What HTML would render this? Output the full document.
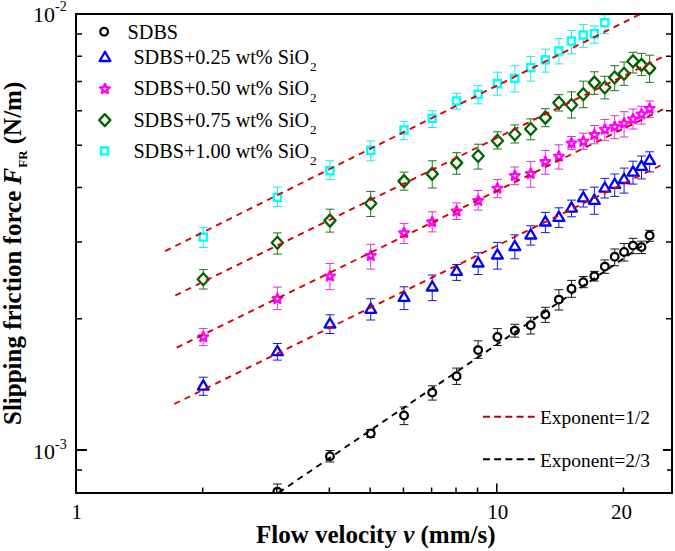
<!DOCTYPE html>
<html><head><meta charset="utf-8"><style>
html,body{margin:0;padding:0;background:#fff;overflow:hidden;}
svg{display:block;font-family:"Liberation Serif",serif;}
</style></head><body>
<svg width="675" height="551" viewBox="0 0 675 551">
<rect width="675" height="551" fill="#fff"/>
<defs><clipPath id="pc"><rect x="76" y="14" width="596" height="478"/></clipPath></defs>
<g clip-path="url(#pc)"><path d="M277.37 484.00V493.00M272.97 484.00H281.77" stroke="#1a1a1a" stroke-width="1.0" fill="none"/><path d="M329.95 450.50V462.00M325.55 450.50H334.35M325.55 462.00H334.35" stroke="#1a1a1a" stroke-width="1.0" fill="none"/><path d="M370.73 429.50V437.50M366.33 429.50H375.13M366.33 437.50H375.13" stroke="#1a1a1a" stroke-width="1.0" fill="none"/><path d="M404.05 407.00V424.60M399.65 407.00H408.45M399.65 424.60H408.45" stroke="#1a1a1a" stroke-width="1.0" fill="none"/><path d="M432.22 385.80V400.10M427.82 385.80H436.62M427.82 400.10H436.62" stroke="#1a1a1a" stroke-width="1.0" fill="none"/><path d="M456.62 368.10V384.40M452.22 368.10H461.02M452.22 384.40H461.02" stroke="#1a1a1a" stroke-width="1.0" fill="none"/><path d="M478.15 340.80V358.30M473.75 340.80H482.55M473.75 358.30H482.55" stroke="#1a1a1a" stroke-width="1.0" fill="none"/><path d="M497.40 328.60V345.50M493.00 328.60H501.80M493.00 345.50H501.80" stroke="#1a1a1a" stroke-width="1.0" fill="none"/><path d="M514.82 324.30V337.10M510.42 324.30H519.22M510.42 337.10H519.22" stroke="#1a1a1a" stroke-width="1.0" fill="none"/><path d="M530.72 317.30V334.00M526.32 317.30H535.12M526.32 334.00H535.12" stroke="#1a1a1a" stroke-width="1.0" fill="none"/><path d="M545.35 307.30V322.40M540.95 307.30H549.75M540.95 322.40H549.75" stroke="#1a1a1a" stroke-width="1.0" fill="none"/><path d="M558.89 289.70V310.00M554.49 289.70H563.29M554.49 310.00H563.29" stroke="#1a1a1a" stroke-width="1.0" fill="none"/><path d="M571.50 280.40V297.30M567.10 280.40H575.90M567.10 297.30H575.90" stroke="#1a1a1a" stroke-width="1.0" fill="none"/><path d="M583.29 276.50V287.70M578.89 276.50H587.69M578.89 287.70H587.69" stroke="#1a1a1a" stroke-width="1.0" fill="none"/><path d="M594.37 271.40V281.00M589.97 271.40H598.77M589.97 281.00H598.77" stroke="#1a1a1a" stroke-width="1.0" fill="none"/><path d="M604.82 259.90V273.30M600.42 259.90H609.22M600.42 273.30H609.22" stroke="#1a1a1a" stroke-width="1.0" fill="none"/><path d="M614.70 249.00V265.70M610.30 249.00H619.10M610.30 265.70H619.10" stroke="#1a1a1a" stroke-width="1.0" fill="none"/><path d="M624.07 243.50V261.00M619.67 243.50H628.47M619.67 261.00H628.47" stroke="#1a1a1a" stroke-width="1.0" fill="none"/><path d="M632.99 238.30V253.70M628.59 238.30H637.39M628.59 253.70H637.39" stroke="#1a1a1a" stroke-width="1.0" fill="none"/><path d="M641.49 241.20V253.50M637.09 241.20H645.89M637.09 253.50H645.89" stroke="#1a1a1a" stroke-width="1.0" fill="none"/><path d="M649.62 230.40V241.30M645.22 230.40H654.02M645.22 241.30H654.02" stroke="#1a1a1a" stroke-width="1.0" fill="none"/><circle cx="277.37" cy="491.60" r="3.85" fill="#fff" stroke="#000" stroke-width="2.25"/><circle cx="329.95" cy="456.20" r="3.85" fill="#fff" stroke="#000" stroke-width="2.25"/><circle cx="370.73" cy="433.50" r="3.85" fill="#fff" stroke="#000" stroke-width="2.25"/><circle cx="404.05" cy="415.50" r="3.85" fill="#fff" stroke="#000" stroke-width="2.25"/><circle cx="432.22" cy="392.60" r="3.85" fill="#fff" stroke="#000" stroke-width="2.25"/><circle cx="456.62" cy="376.30" r="3.85" fill="#fff" stroke="#000" stroke-width="2.25"/><circle cx="478.15" cy="350.10" r="3.85" fill="#fff" stroke="#000" stroke-width="2.25"/><circle cx="497.40" cy="336.90" r="3.85" fill="#fff" stroke="#000" stroke-width="2.25"/><circle cx="514.82" cy="330.60" r="3.85" fill="#fff" stroke="#000" stroke-width="2.25"/><circle cx="530.72" cy="325.30" r="3.85" fill="#fff" stroke="#000" stroke-width="2.25"/><circle cx="545.35" cy="314.40" r="3.85" fill="#fff" stroke="#000" stroke-width="2.25"/><circle cx="558.89" cy="299.60" r="3.85" fill="#fff" stroke="#000" stroke-width="2.25"/><circle cx="571.50" cy="288.70" r="3.85" fill="#fff" stroke="#000" stroke-width="2.25"/><circle cx="583.29" cy="282.20" r="3.85" fill="#fff" stroke="#000" stroke-width="2.25"/><circle cx="594.37" cy="276.10" r="3.85" fill="#fff" stroke="#000" stroke-width="2.25"/><circle cx="604.82" cy="266.60" r="3.85" fill="#fff" stroke="#000" stroke-width="2.25"/><circle cx="614.70" cy="256.70" r="3.85" fill="#fff" stroke="#000" stroke-width="2.25"/><circle cx="624.07" cy="251.90" r="3.85" fill="#fff" stroke="#000" stroke-width="2.25"/><circle cx="632.99" cy="245.60" r="3.85" fill="#fff" stroke="#000" stroke-width="2.25"/><circle cx="641.49" cy="247.10" r="3.85" fill="#fff" stroke="#000" stroke-width="2.25"/><circle cx="649.62" cy="235.50" r="3.85" fill="#fff" stroke="#000" stroke-width="2.25"/><path d="M203.27 377.20V395.30M198.87 377.20H207.67M198.87 395.30H207.67" stroke="#1818d8" stroke-width="1.0" fill="none"/><path d="M277.37 343.50V360.10M272.97 343.50H281.77M272.97 360.10H281.77" stroke="#1818d8" stroke-width="1.0" fill="none"/><path d="M329.95 314.80V333.50M325.55 314.80H334.35M325.55 333.50H334.35" stroke="#1818d8" stroke-width="1.0" fill="none"/><path d="M370.73 298.70V320.00M366.33 298.70H375.13M366.33 320.00H375.13" stroke="#1818d8" stroke-width="1.0" fill="none"/><path d="M404.05 286.80V309.60M399.65 286.80H408.45M399.65 309.60H408.45" stroke="#1818d8" stroke-width="1.0" fill="none"/><path d="M432.22 275.00V300.60M427.82 275.00H436.62M427.82 300.60H436.62" stroke="#1818d8" stroke-width="1.0" fill="none"/><path d="M456.62 264.50V280.40M452.22 264.50H461.02M452.22 280.40H461.02" stroke="#1818d8" stroke-width="1.0" fill="none"/><path d="M478.15 252.70V274.50M473.75 252.70H482.55M473.75 274.50H482.55" stroke="#1818d8" stroke-width="1.0" fill="none"/><path d="M497.40 242.40V269.10M493.00 242.40H501.80M493.00 269.10H501.80" stroke="#1818d8" stroke-width="1.0" fill="none"/><path d="M514.82 234.80V258.80M510.42 234.80H519.22M510.42 258.80H519.22" stroke="#1818d8" stroke-width="1.0" fill="none"/><path d="M530.72 225.80V245.10M526.32 225.80H535.12M526.32 245.10H535.12" stroke="#1818d8" stroke-width="1.0" fill="none"/><path d="M545.35 212.40V232.60M540.95 212.40H549.75M540.95 232.60H549.75" stroke="#1818d8" stroke-width="1.0" fill="none"/><path d="M558.89 207.80V227.40M554.49 207.80H563.29M554.49 227.40H563.29" stroke="#1818d8" stroke-width="1.0" fill="none"/><path d="M571.50 200.10V216.80M567.10 200.10H575.90M567.10 216.80H575.90" stroke="#1818d8" stroke-width="1.0" fill="none"/><path d="M583.29 189.80V207.00M578.89 189.80H587.69M578.89 207.00H587.69" stroke="#1818d8" stroke-width="1.0" fill="none"/><path d="M594.37 187.10V214.30M589.97 187.10H598.77M589.97 214.30H598.77" stroke="#1818d8" stroke-width="1.0" fill="none"/><path d="M604.82 178.40V198.00M600.42 178.40H609.22M600.42 198.00H609.22" stroke="#1818d8" stroke-width="1.0" fill="none"/><path d="M614.70 174.00V196.40M610.30 174.00H619.10M610.30 196.40H619.10" stroke="#1818d8" stroke-width="1.0" fill="none"/><path d="M624.07 168.10V193.10M619.67 168.10H628.47M619.67 193.10H628.47" stroke="#1818d8" stroke-width="1.0" fill="none"/><path d="M632.99 161.20V184.10M628.59 161.20H637.39M628.59 184.10H637.39" stroke="#1818d8" stroke-width="1.0" fill="none"/><path d="M641.49 156.00V178.90M637.09 156.00H645.89M637.09 178.90H645.89" stroke="#1818d8" stroke-width="1.0" fill="none"/><path d="M649.62 151.80V171.90M645.22 151.80H654.02M645.22 171.90H654.02" stroke="#1818d8" stroke-width="1.0" fill="none"/><path d="M203.27 380.40L208.67 389.60L197.87 389.60Z" fill="#fff" stroke="#0000ff" stroke-width="2.3" stroke-linejoin="round"/><path d="M277.37 346.00L282.77 355.20L271.97 355.20Z" fill="#fff" stroke="#0000ff" stroke-width="2.3" stroke-linejoin="round"/><path d="M329.95 318.30L335.35 327.50L324.55 327.50Z" fill="#fff" stroke="#0000ff" stroke-width="2.3" stroke-linejoin="round"/><path d="M370.73 303.60L376.13 312.80L365.33 312.80Z" fill="#fff" stroke="#0000ff" stroke-width="2.3" stroke-linejoin="round"/><path d="M404.05 291.70L409.45 300.90L398.65 300.90Z" fill="#fff" stroke="#0000ff" stroke-width="2.3" stroke-linejoin="round"/><path d="M432.22 281.30L437.62 290.50L426.82 290.50Z" fill="#fff" stroke="#0000ff" stroke-width="2.3" stroke-linejoin="round"/><path d="M456.62 265.60L462.02 274.80L451.22 274.80Z" fill="#fff" stroke="#0000ff" stroke-width="2.3" stroke-linejoin="round"/><path d="M478.15 257.30L483.55 266.50L472.75 266.50Z" fill="#fff" stroke="#0000ff" stroke-width="2.3" stroke-linejoin="round"/><path d="M497.40 249.30L502.80 258.50L492.00 258.50Z" fill="#fff" stroke="#0000ff" stroke-width="2.3" stroke-linejoin="round"/><path d="M514.82 240.80L520.22 250.00L509.42 250.00Z" fill="#fff" stroke="#0000ff" stroke-width="2.3" stroke-linejoin="round"/><path d="M530.72 229.30L536.12 238.50L525.32 238.50Z" fill="#fff" stroke="#0000ff" stroke-width="2.3" stroke-linejoin="round"/><path d="M545.35 216.30L550.75 225.50L539.95 225.50Z" fill="#fff" stroke="#0000ff" stroke-width="2.3" stroke-linejoin="round"/><path d="M558.89 211.70L564.29 220.90L553.49 220.90Z" fill="#fff" stroke="#0000ff" stroke-width="2.3" stroke-linejoin="round"/><path d="M571.50 202.40L576.90 211.60L566.10 211.60Z" fill="#fff" stroke="#0000ff" stroke-width="2.3" stroke-linejoin="round"/><path d="M583.29 192.10L588.69 201.30L577.89 201.30Z" fill="#fff" stroke="#0000ff" stroke-width="2.3" stroke-linejoin="round"/><path d="M594.37 194.60L599.77 203.80L588.97 203.80Z" fill="#fff" stroke="#0000ff" stroke-width="2.3" stroke-linejoin="round"/><path d="M604.82 182.50L610.22 191.70L599.42 191.70Z" fill="#fff" stroke="#0000ff" stroke-width="2.3" stroke-linejoin="round"/><path d="M614.70 178.70L620.10 187.90L609.30 187.90Z" fill="#fff" stroke="#0000ff" stroke-width="2.3" stroke-linejoin="round"/><path d="M624.07 173.80L629.47 183.00L618.67 183.00Z" fill="#fff" stroke="#0000ff" stroke-width="2.3" stroke-linejoin="round"/><path d="M632.99 166.40L638.39 175.60L627.59 175.60Z" fill="#fff" stroke="#0000ff" stroke-width="2.3" stroke-linejoin="round"/><path d="M641.49 160.70L646.89 169.90L636.09 169.90Z" fill="#fff" stroke="#0000ff" stroke-width="2.3" stroke-linejoin="round"/><path d="M649.62 154.70L655.02 163.90L644.22 163.90Z" fill="#fff" stroke="#0000ff" stroke-width="2.3" stroke-linejoin="round"/><path d="M203.27 328.60V345.60M198.87 328.60H207.67M198.87 345.60H207.67" stroke="#e030e0" stroke-width="1.0" fill="none"/><path d="M277.37 287.10V309.60M272.97 287.10H281.77M272.97 309.60H281.77" stroke="#e030e0" stroke-width="1.0" fill="none"/><path d="M329.95 263.40V289.70M325.55 263.40H334.35M325.55 289.70H334.35" stroke="#e030e0" stroke-width="1.0" fill="none"/><path d="M370.73 244.30V269.10M366.33 244.30H375.13M366.33 269.10H375.13" stroke="#e030e0" stroke-width="1.0" fill="none"/><path d="M404.05 223.60V243.50M399.65 223.60H408.45M399.65 243.50H408.45" stroke="#e030e0" stroke-width="1.0" fill="none"/><path d="M432.22 211.80V231.90M427.82 211.80H436.62M427.82 231.90H436.62" stroke="#e030e0" stroke-width="1.0" fill="none"/><path d="M456.62 202.90V219.50M452.22 202.90H461.02M452.22 219.50H461.02" stroke="#e030e0" stroke-width="1.0" fill="none"/><path d="M478.15 190.50V210.10M473.75 190.50H482.55M473.75 210.10H482.55" stroke="#e030e0" stroke-width="1.0" fill="none"/><path d="M497.40 179.50V197.70M493.00 179.50H501.80M493.00 197.70H501.80" stroke="#e030e0" stroke-width="1.0" fill="none"/><path d="M514.82 167.00V184.70M510.42 167.00H519.22M510.42 184.70H519.22" stroke="#e030e0" stroke-width="1.0" fill="none"/><path d="M530.72 161.40V187.20M526.32 161.40H535.12M526.32 187.20H535.12" stroke="#e030e0" stroke-width="1.0" fill="none"/><path d="M545.35 150.40V174.30M540.95 150.40H549.75M540.95 174.30H549.75" stroke="#e030e0" stroke-width="1.0" fill="none"/><path d="M558.89 144.80V169.10M554.49 144.80H563.29M554.49 169.10H563.29" stroke="#e030e0" stroke-width="1.0" fill="none"/><path d="M571.50 136.50V149.40M567.10 136.50H575.90M567.10 149.40H575.90" stroke="#e030e0" stroke-width="1.0" fill="none"/><path d="M583.29 133.20V149.40M578.89 133.20H587.69M578.89 149.40H587.69" stroke="#e030e0" stroke-width="1.0" fill="none"/><path d="M594.37 125.50V143.80M589.97 125.50H598.77M589.97 143.80H598.77" stroke="#e030e0" stroke-width="1.0" fill="none"/><path d="M604.82 119.40V140.70M600.42 119.40H609.22M600.42 140.70H609.22" stroke="#e030e0" stroke-width="1.0" fill="none"/><path d="M614.70 115.70V138.70M610.30 115.70H619.10M610.30 138.70H619.10" stroke="#e030e0" stroke-width="1.0" fill="none"/><path d="M624.07 111.70V137.00M619.67 111.70H628.47M619.67 137.00H628.47" stroke="#e030e0" stroke-width="1.0" fill="none"/><path d="M632.99 109.00V129.00M628.59 109.00H637.39M628.59 129.00H637.39" stroke="#e030e0" stroke-width="1.0" fill="none"/><path d="M641.49 106.30V124.10M637.09 106.30H645.89M637.09 124.10H645.89" stroke="#e030e0" stroke-width="1.0" fill="none"/><path d="M649.62 101.00V117.70M645.22 101.00H654.02M645.22 117.70H654.02" stroke="#e030e0" stroke-width="1.0" fill="none"/><path d="M203.27 332.05L204.60 335.23L208.03 335.50L205.41 337.75L206.21 341.10L203.27 339.30L200.33 341.10L201.13 337.75L198.52 335.50L201.95 335.23Z" fill="#fff" stroke="#ff00ff" stroke-width="2.4" stroke-linejoin="round"/><path d="M277.37 293.85L278.70 297.03L282.13 297.30L279.51 299.55L280.31 302.90L277.37 301.10L274.43 302.90L275.23 299.55L272.62 297.30L276.05 297.03Z" fill="#fff" stroke="#ff00ff" stroke-width="2.4" stroke-linejoin="round"/><path d="M329.95 271.25L331.27 274.43L334.70 274.70L332.09 276.95L332.89 280.30L329.95 278.50L327.01 280.30L327.81 276.95L325.19 274.70L328.62 274.43Z" fill="#fff" stroke="#ff00ff" stroke-width="2.4" stroke-linejoin="round"/><path d="M370.73 250.75L372.05 253.93L375.48 254.20L372.87 256.45L373.67 259.80L370.73 258.00L367.79 259.80L368.59 256.45L365.97 254.20L369.40 253.93Z" fill="#fff" stroke="#ff00ff" stroke-width="2.4" stroke-linejoin="round"/><path d="M404.05 228.05L405.37 231.23L408.80 231.50L406.19 233.75L406.98 237.10L404.05 235.30L401.11 237.10L401.91 233.75L399.29 231.50L402.72 231.23Z" fill="#fff" stroke="#ff00ff" stroke-width="2.4" stroke-linejoin="round"/><path d="M432.22 217.05L433.54 220.23L436.97 220.50L434.36 222.75L435.16 226.10L432.22 224.30L429.28 226.10L430.08 222.75L427.46 220.50L430.89 220.23Z" fill="#fff" stroke="#ff00ff" stroke-width="2.4" stroke-linejoin="round"/><path d="M456.62 206.25L457.94 209.43L461.38 209.70L458.76 211.95L459.56 215.30L456.62 213.50L453.68 215.30L454.48 211.95L451.86 209.70L455.30 209.43Z" fill="#fff" stroke="#ff00ff" stroke-width="2.4" stroke-linejoin="round"/><path d="M478.15 195.75L479.47 198.93L482.90 199.20L480.29 201.45L481.08 204.80L478.15 203.00L475.21 204.80L476.01 201.45L473.39 199.20L476.82 198.93Z" fill="#fff" stroke="#ff00ff" stroke-width="2.4" stroke-linejoin="round"/><path d="M497.40 183.45L498.72 186.63L502.16 186.90L499.54 189.15L500.34 192.50L497.40 190.70L494.46 192.50L495.26 189.15L492.64 186.90L496.08 186.63Z" fill="#fff" stroke="#ff00ff" stroke-width="2.4" stroke-linejoin="round"/><path d="M514.82 170.75L516.14 173.93L519.57 174.20L516.96 176.45L517.76 179.80L514.82 178.00L511.88 179.80L512.68 176.45L510.06 174.20L513.50 173.93Z" fill="#fff" stroke="#ff00ff" stroke-width="2.4" stroke-linejoin="round"/><path d="M530.72 168.75L532.04 171.93L535.47 172.20L532.86 174.45L533.66 177.80L530.72 176.00L527.78 177.80L528.58 174.45L525.96 172.20L529.40 171.93Z" fill="#fff" stroke="#ff00ff" stroke-width="2.4" stroke-linejoin="round"/><path d="M545.35 156.85L546.67 160.03L550.10 160.30L547.49 162.55L548.29 165.90L545.35 164.10L542.41 165.90L543.21 162.55L540.59 160.30L544.02 160.03Z" fill="#fff" stroke="#ff00ff" stroke-width="2.4" stroke-linejoin="round"/><path d="M558.89 151.45L560.21 154.63L563.65 154.90L561.03 157.15L561.83 160.50L558.89 158.70L555.95 160.50L556.75 157.15L554.14 154.90L557.57 154.63Z" fill="#fff" stroke="#ff00ff" stroke-width="2.4" stroke-linejoin="round"/><path d="M571.50 138.25L572.82 141.43L576.25 141.70L573.64 143.95L574.44 147.30L571.50 145.50L568.56 147.30L569.36 143.95L566.74 141.70L570.18 141.43Z" fill="#fff" stroke="#ff00ff" stroke-width="2.4" stroke-linejoin="round"/><path d="M583.29 136.45L584.62 139.63L588.05 139.90L585.43 142.15L586.23 145.50L583.29 143.70L580.35 145.50L581.15 142.15L578.54 139.90L581.97 139.63Z" fill="#fff" stroke="#ff00ff" stroke-width="2.4" stroke-linejoin="round"/><path d="M594.37 129.85L595.70 133.03L599.13 133.30L596.51 135.55L597.31 138.90L594.37 137.10L591.43 138.90L592.23 135.55L589.62 133.30L593.05 133.03Z" fill="#fff" stroke="#ff00ff" stroke-width="2.4" stroke-linejoin="round"/><path d="M604.82 124.45L606.14 127.63L609.57 127.90L606.96 130.15L607.76 133.50L604.82 131.70L601.88 133.50L602.68 130.15L600.06 127.90L603.50 127.63Z" fill="#fff" stroke="#ff00ff" stroke-width="2.4" stroke-linejoin="round"/><path d="M614.70 121.75L616.02 124.93L619.45 125.20L616.84 127.45L617.64 130.80L614.70 129.00L611.76 130.80L612.56 127.45L609.94 125.20L613.38 124.93Z" fill="#fff" stroke="#ff00ff" stroke-width="2.4" stroke-linejoin="round"/><path d="M624.07 118.45L625.40 121.63L628.83 121.90L626.21 124.15L627.01 127.50L624.07 125.70L621.13 127.50L621.93 124.15L619.32 121.90L622.75 121.63Z" fill="#fff" stroke="#ff00ff" stroke-width="2.4" stroke-linejoin="round"/><path d="M632.99 114.15L634.31 117.33L637.75 117.60L635.13 119.85L635.93 123.20L632.99 121.40L630.05 123.20L630.85 119.85L628.23 117.60L631.67 117.33Z" fill="#fff" stroke="#ff00ff" stroke-width="2.4" stroke-linejoin="round"/><path d="M641.49 109.15L642.81 112.33L646.25 112.60L643.63 114.85L644.43 118.20L641.49 116.40L638.55 118.20L639.35 114.85L636.74 112.60L640.17 112.33Z" fill="#fff" stroke="#ff00ff" stroke-width="2.4" stroke-linejoin="round"/><path d="M649.62 103.75L650.94 106.93L654.37 107.20L651.75 109.45L652.55 112.80L649.62 111.00L646.68 112.80L647.48 109.45L644.86 107.20L648.29 106.93Z" fill="#fff" stroke="#ff00ff" stroke-width="2.4" stroke-linejoin="round"/><path d="M203.27 269.60V289.00M198.87 269.60H207.67M198.87 289.00H207.67" stroke="#237523" stroke-width="1.0" fill="none"/><path d="M277.37 232.90V254.10M272.97 232.90H281.77M272.97 254.10H281.77" stroke="#237523" stroke-width="1.0" fill="none"/><path d="M329.95 209.20V232.10M325.55 209.20H334.35M325.55 232.10H334.35" stroke="#237523" stroke-width="1.0" fill="none"/><path d="M370.73 191.40V216.50M366.33 191.40H375.13M366.33 216.50H375.13" stroke="#237523" stroke-width="1.0" fill="none"/><path d="M404.05 172.10V190.20M399.65 172.10H408.45M399.65 190.20H408.45" stroke="#237523" stroke-width="1.0" fill="none"/><path d="M432.22 160.80V188.00M427.82 160.80H436.62M427.82 188.00H436.62" stroke="#237523" stroke-width="1.0" fill="none"/><path d="M456.62 152.70V174.30M452.22 152.70H461.02M452.22 174.30H461.02" stroke="#237523" stroke-width="1.0" fill="none"/><path d="M478.15 144.20V169.10M473.75 144.20H482.55M473.75 169.10H482.55" stroke="#237523" stroke-width="1.0" fill="none"/><path d="M497.40 131.80V149.00M493.00 131.80H501.80M493.00 149.00H501.80" stroke="#237523" stroke-width="1.0" fill="none"/><path d="M514.82 124.90V143.00M510.42 124.90H519.22M510.42 143.00H519.22" stroke="#237523" stroke-width="1.0" fill="none"/><path d="M530.72 118.90V139.80M526.32 118.90H535.12M526.32 139.80H535.12" stroke="#237523" stroke-width="1.0" fill="none"/><path d="M545.35 108.70V126.70M540.95 108.70H549.75M540.95 126.70H549.75" stroke="#237523" stroke-width="1.0" fill="none"/><path d="M558.89 94.70V111.00M554.49 94.70H563.29M554.49 111.00H563.29" stroke="#237523" stroke-width="1.0" fill="none"/><path d="M571.50 91.90V118.00M567.10 91.90H575.90M567.10 118.00H575.90" stroke="#237523" stroke-width="1.0" fill="none"/><path d="M583.29 81.20V107.70M578.89 81.20H587.69M578.89 107.70H587.69" stroke="#237523" stroke-width="1.0" fill="none"/><path d="M594.37 71.80V94.30M589.97 71.80H598.77M589.97 94.30H598.77" stroke="#237523" stroke-width="1.0" fill="none"/><path d="M604.82 76.30V98.90M600.42 76.30H609.22M600.42 98.90H609.22" stroke="#237523" stroke-width="1.0" fill="none"/><path d="M614.70 65.70V90.70M610.30 65.70H619.10M610.30 90.70H619.10" stroke="#237523" stroke-width="1.0" fill="none"/><path d="M624.07 62.00V85.30M619.67 62.00H628.47M619.67 85.30H628.47" stroke="#237523" stroke-width="1.0" fill="none"/><path d="M632.99 52.30V73.00M628.59 52.30H637.39M628.59 73.00H637.39" stroke="#237523" stroke-width="1.0" fill="none"/><path d="M641.49 53.40V75.60M637.09 53.40H645.89M637.09 75.60H645.89" stroke="#237523" stroke-width="1.0" fill="none"/><path d="M649.62 55.20V82.40M645.22 55.20H654.02M645.22 82.40H654.02" stroke="#237523" stroke-width="1.0" fill="none"/><path d="M203.27 273.20L208.87 279.20L203.27 285.20L197.67 279.20Z" fill="#fff" stroke="#006400" stroke-width="2.3" stroke-linejoin="round"/><path d="M277.37 236.70L282.97 242.70L277.37 248.70L271.77 242.70Z" fill="#fff" stroke="#006400" stroke-width="2.3" stroke-linejoin="round"/><path d="M329.95 214.60L335.55 220.60L329.95 226.60L324.35 220.60Z" fill="#fff" stroke="#006400" stroke-width="2.3" stroke-linejoin="round"/><path d="M370.73 197.50L376.33 203.50L370.73 209.50L365.13 203.50Z" fill="#fff" stroke="#006400" stroke-width="2.3" stroke-linejoin="round"/><path d="M404.05 175.10L409.65 181.10L404.05 187.10L398.45 181.10Z" fill="#fff" stroke="#006400" stroke-width="2.3" stroke-linejoin="round"/><path d="M432.22 167.90L437.82 173.90L432.22 179.90L426.62 173.90Z" fill="#fff" stroke="#006400" stroke-width="2.3" stroke-linejoin="round"/><path d="M456.62 156.90L462.22 162.90L456.62 168.90L451.02 162.90Z" fill="#fff" stroke="#006400" stroke-width="2.3" stroke-linejoin="round"/><path d="M478.15 150.00L483.75 156.00L478.15 162.00L472.55 156.00Z" fill="#fff" stroke="#006400" stroke-width="2.3" stroke-linejoin="round"/><path d="M497.40 134.70L503.00 140.70L497.40 146.70L491.80 140.70Z" fill="#fff" stroke="#006400" stroke-width="2.3" stroke-linejoin="round"/><path d="M514.82 128.30L520.42 134.30L514.82 140.30L509.22 134.30Z" fill="#fff" stroke="#006400" stroke-width="2.3" stroke-linejoin="round"/><path d="M530.72 123.00L536.32 129.00L530.72 135.00L525.12 129.00Z" fill="#fff" stroke="#006400" stroke-width="2.3" stroke-linejoin="round"/><path d="M545.35 111.60L550.95 117.60L545.35 123.60L539.75 117.60Z" fill="#fff" stroke="#006400" stroke-width="2.3" stroke-linejoin="round"/><path d="M558.89 96.80L564.49 102.80L558.89 108.80L553.29 102.80Z" fill="#fff" stroke="#006400" stroke-width="2.3" stroke-linejoin="round"/><path d="M571.50 99.00L577.10 105.00L571.50 111.00L565.90 105.00Z" fill="#fff" stroke="#006400" stroke-width="2.3" stroke-linejoin="round"/><path d="M583.29 88.30L588.89 94.30L583.29 100.30L577.69 94.30Z" fill="#fff" stroke="#006400" stroke-width="2.3" stroke-linejoin="round"/><path d="M594.37 76.60L599.97 82.60L594.37 88.60L588.77 82.60Z" fill="#fff" stroke="#006400" stroke-width="2.3" stroke-linejoin="round"/><path d="M604.82 81.50L610.42 87.50L604.82 93.50L599.22 87.50Z" fill="#fff" stroke="#006400" stroke-width="2.3" stroke-linejoin="round"/><path d="M614.70 71.50L620.30 77.50L614.70 83.50L609.10 77.50Z" fill="#fff" stroke="#006400" stroke-width="2.3" stroke-linejoin="round"/><path d="M624.07 67.80L629.67 73.80L624.07 79.80L618.47 73.80Z" fill="#fff" stroke="#006400" stroke-width="2.3" stroke-linejoin="round"/><path d="M632.99 55.30L638.59 61.30L632.99 67.30L627.39 61.30Z" fill="#fff" stroke="#006400" stroke-width="2.3" stroke-linejoin="round"/><path d="M641.49 58.90L647.09 64.90L641.49 70.90L635.89 64.90Z" fill="#fff" stroke="#006400" stroke-width="2.3" stroke-linejoin="round"/><path d="M649.62 62.40L655.22 68.40L649.62 74.40L644.02 68.40Z" fill="#fff" stroke="#006400" stroke-width="2.3" stroke-linejoin="round"/><path d="M203.27 227.30V247.40M198.87 227.30H207.67M198.87 247.40H207.67" stroke="#20e8e8" stroke-width="1.0" fill="none"/><path d="M277.37 187.10V206.50M272.97 187.10H281.77M272.97 206.50H281.77" stroke="#20e8e8" stroke-width="1.0" fill="none"/><path d="M329.95 160.80V179.60M325.55 160.80H334.35M325.55 179.60H334.35" stroke="#20e8e8" stroke-width="1.0" fill="none"/><path d="M370.73 141.00V160.80M366.33 141.00H375.13M366.33 160.80H375.13" stroke="#20e8e8" stroke-width="1.0" fill="none"/><path d="M404.05 121.30V139.70M399.65 121.30H408.45M399.65 139.70H408.45" stroke="#20e8e8" stroke-width="1.0" fill="none"/><path d="M432.22 110.80V127.50M427.82 110.80H436.62M427.82 127.50H436.62" stroke="#20e8e8" stroke-width="1.0" fill="none"/><path d="M456.62 93.30V109.20M452.22 93.30H461.02M452.22 109.20H461.02" stroke="#20e8e8" stroke-width="1.0" fill="none"/><path d="M478.15 85.70V103.80M473.75 85.70H482.55M473.75 103.80H482.55" stroke="#20e8e8" stroke-width="1.0" fill="none"/><path d="M497.40 72.20V95.10M493.00 72.20H501.80M493.00 95.10H501.80" stroke="#20e8e8" stroke-width="1.0" fill="none"/><path d="M514.82 65.80V92.00M510.42 65.80H519.22M510.42 92.00H519.22" stroke="#20e8e8" stroke-width="1.0" fill="none"/><path d="M530.72 56.60V81.10M526.32 56.60H535.12M526.32 81.10H535.12" stroke="#20e8e8" stroke-width="1.0" fill="none"/><path d="M545.35 49.20V72.10M540.95 49.20H549.75M540.95 72.10H549.75" stroke="#20e8e8" stroke-width="1.0" fill="none"/><path d="M558.89 38.60V63.90M554.49 38.60H563.29M554.49 63.90H563.29" stroke="#20e8e8" stroke-width="1.0" fill="none"/><path d="M571.50 30.40V53.80M567.10 30.40H575.90M567.10 53.80H575.90" stroke="#20e8e8" stroke-width="1.0" fill="none"/><path d="M583.29 24.40V47.30M578.89 24.40H587.69M578.89 47.30H587.69" stroke="#20e8e8" stroke-width="1.0" fill="none"/><path d="M594.37 25.90V43.20M589.97 25.90H598.77M589.97 43.20H598.77" stroke="#20e8e8" stroke-width="1.0" fill="none"/><path d="M604.82 14.90V33.70M600.42 14.90H609.22M600.42 33.70H609.22" stroke="#20e8e8" stroke-width="1.0" fill="none"/><rect x="199.72" y="233.55" width="7.10" height="7.10" fill="#fff" stroke="#00ffff" stroke-width="2.4"/><rect x="273.82" y="193.85" width="7.10" height="7.10" fill="#fff" stroke="#00ffff" stroke-width="2.4"/><rect x="326.40" y="167.15" width="7.10" height="7.10" fill="#fff" stroke="#00ffff" stroke-width="2.4"/><rect x="367.18" y="146.75" width="7.10" height="7.10" fill="#fff" stroke="#00ffff" stroke-width="2.4"/><rect x="400.50" y="126.45" width="7.10" height="7.10" fill="#fff" stroke="#00ffff" stroke-width="2.4"/><rect x="428.67" y="114.85" width="7.10" height="7.10" fill="#fff" stroke="#00ffff" stroke-width="2.4"/><rect x="453.07" y="97.45" width="7.10" height="7.10" fill="#fff" stroke="#00ffff" stroke-width="2.4"/><rect x="474.60" y="90.85" width="7.10" height="7.10" fill="#fff" stroke="#00ffff" stroke-width="2.4"/><rect x="493.85" y="79.95" width="7.10" height="7.10" fill="#fff" stroke="#00ffff" stroke-width="2.4"/><rect x="511.27" y="74.85" width="7.10" height="7.10" fill="#fff" stroke="#00ffff" stroke-width="2.4"/><rect x="527.17" y="63.95" width="7.10" height="7.10" fill="#fff" stroke="#00ffff" stroke-width="2.4"/><rect x="541.80" y="56.35" width="7.10" height="7.10" fill="#fff" stroke="#00ffff" stroke-width="2.4"/><rect x="555.34" y="47.35" width="7.10" height="7.10" fill="#fff" stroke="#00ffff" stroke-width="2.4"/><rect x="567.95" y="37.55" width="7.10" height="7.10" fill="#fff" stroke="#00ffff" stroke-width="2.4"/><rect x="579.74" y="31.45" width="7.10" height="7.10" fill="#fff" stroke="#00ffff" stroke-width="2.4"/><rect x="590.82" y="30.15" width="7.10" height="7.10" fill="#fff" stroke="#00ffff" stroke-width="2.4"/><rect x="601.27" y="19.15" width="7.10" height="7.10" fill="#fff" stroke="#00ffff" stroke-width="2.4"/><line x1="165.2" y1="251.1" x2="640.9" y2="13.8" stroke="#d80000" stroke-width="1.9" stroke-dasharray="6.2 5.19"/><line x1="175.3" y1="295.5" x2="662.1" y2="57.1" stroke="#d80000" stroke-width="1.9" stroke-dasharray="6.2 5.19"/><line x1="176.7" y1="347.7" x2="663.4" y2="109.2" stroke="#d80000" stroke-width="1.9" stroke-dasharray="6.2 5.19"/><line x1="174.3" y1="404.0" x2="660.9" y2="165.3" stroke="#d80000" stroke-width="1.9" stroke-dasharray="6.2 5.19"/><line x1="278.7" y1="492.6" x2="649.0" y2="241.2" stroke="#000" stroke-width="1.9" stroke-dasharray="6.2 5.19"/></g>
<path d="M76 318.75H82M672 318.75H666" stroke="#000" stroke-width="1.6"/><path d="M76 241.98H82M672 241.98H666" stroke="#000" stroke-width="1.6"/><path d="M76 187.50H82M672 187.50H666" stroke="#000" stroke-width="1.6"/><path d="M76 145.25H82M672 145.25H666" stroke="#000" stroke-width="1.6"/><path d="M76 110.73H82M672 110.73H666" stroke="#000" stroke-width="1.6"/><path d="M76 81.54H82M672 81.54H666" stroke="#000" stroke-width="1.6"/><path d="M76 56.25H82M672 56.25H666" stroke="#000" stroke-width="1.6"/><path d="M76 33.95H82M672 33.95H666" stroke="#000" stroke-width="1.6"/><path d="M76 469.95H82M672 469.95H667" stroke="#000" stroke-width="1.6"/><path d="M76 450H87M672 450H663" stroke="#000" stroke-width="1.8"/><path d="M202.67 493V487.5" stroke="#000" stroke-width="1.5"/><path d="M276.77 493V487.5" stroke="#000" stroke-width="1.5"/><path d="M329.35 493V487.5" stroke="#000" stroke-width="1.5"/><path d="M370.13 493V487.5" stroke="#000" stroke-width="1.5"/><path d="M403.45 493V487.5" stroke="#000" stroke-width="1.5"/><path d="M431.62 493V487.5" stroke="#000" stroke-width="1.5"/><path d="M456.02 493V487.5" stroke="#000" stroke-width="1.5"/><path d="M477.55 493V487.5" stroke="#000" stroke-width="1.5"/><path d="M623.47 493V487.5" stroke="#000" stroke-width="1.5"/><path d="M496.80 493V483.5" stroke="#000" stroke-width="1.6"/>
<path d="M76 14H672V493H76Z" fill="none" stroke="#000" stroke-width="2"/>
<g font-family="Liberation Serif, serif" font-size="21" fill="#000">
<text x="76.8" y="518.7" text-anchor="middle">1</text>
<text x="497.7" y="518.7" text-anchor="middle">10</text>
<text x="621.6" y="518.7" text-anchor="middle">20</text>
</g>
<g font-family="Liberation Serif, serif" font-size="22" fill="#000">
<text x="33" y="22.2">10<tspan font-size="14" dy="-11.5">-2</tspan></text>
<text x="33" y="458.9">10<tspan font-size="14" dy="-10.3">-3</tspan></text>
</g>
<g font-family="Liberation Serif, serif" font-size="20.2" fill="#000">
<circle cx="104.10" cy="31.80" r="3.85" fill="#fff" stroke="#000" stroke-width="2.25"/>
<text x="127.6" y="38.9">SDBS</text>
<path d="M105.00 51.80L110.40 61.00L99.60 61.00Z" fill="#fff" stroke="#0000ff" stroke-width="2.3" stroke-linejoin="round"/>
<text x="133.4" y="63.7">SDBS+0.25 wt% SiO<tspan font-size="13.3" dx="0.8" dy="7.3">2</tspan></text>
<path d="M104.90 83.95L106.22 87.13L109.66 87.40L107.04 89.65L107.84 93.00L104.90 91.20L101.96 93.00L102.76 89.65L100.14 87.40L103.58 87.13Z" fill="#fff" stroke="#ff00ff" stroke-width="2.4" stroke-linejoin="round"/>
<text x="133.4" y="94.8">SDBS+0.50 wt% SiO<tspan font-size="13.3" dx="0.8" dy="7.3">2</tspan></text>
<path d="M104.80 114.10L110.40 120.10L104.80 126.10L99.20 120.10Z" fill="#fff" stroke="#006400" stroke-width="2.3" stroke-linejoin="round"/>
<text x="133.4" y="126.5">SDBS+0.75 wt% SiO<tspan font-size="13.3" dx="0.8" dy="7.3">2</tspan></text>
<rect x="100.95" y="147.35" width="7.10" height="7.10" fill="#fff" stroke="#00ffff" stroke-width="2.4"/>
<text x="133.4" y="157.5">SDBS+1.00 wt% SiO<tspan font-size="13.3" dx="0.8" dy="7.3">2</tspan></text>
<path d="M483 416.8H535" stroke="#b80010" stroke-width="2" stroke-dasharray="6.9 4.3"/>
<path d="M483 459.3H535" stroke="#000" stroke-width="2" stroke-dasharray="6.9 4.3"/>
<text x="540" y="424.4" font-size="19.4">Exponent=1/2</text>
<text x="540" y="466.8" font-size="19.4">Exponent=2/3</text>
</g>
<text x="256" y="542.5" font-family="Liberation Serif, serif" font-size="25" font-weight="bold">Flow velocity <tspan font-style="italic">v</tspan> (mm/s)</text>
<text transform="translate(21.3,425) rotate(-90)" font-family="Liberation Serif, serif" font-size="25" font-weight="bold">Slipping friction force <tspan font-style="italic">F</tspan><tspan font-size="13" dy="6">FR</tspan><tspan dy="-6"> (N/m)</tspan></text>
</svg>
</body></html>
